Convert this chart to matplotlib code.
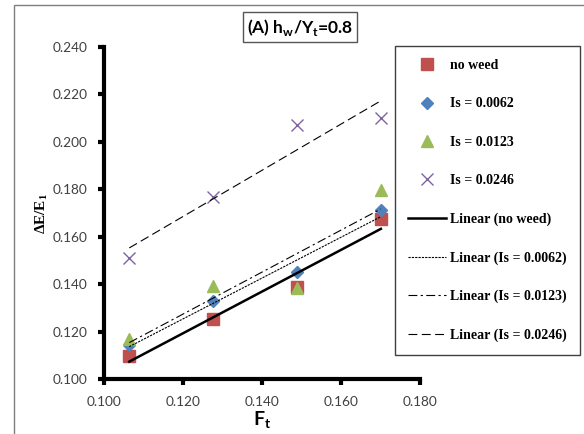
import matplotlib
matplotlib.use("Agg")
import matplotlib.pyplot as plt
import numpy as np
from matplotlib.patches import Rectangle

# data
ft = [0.1064, 0.1277, 0.1488, 0.1701]
no_weed = [0.1098, 0.1253, 0.1387, 0.1675]
is_0062 = [0.1145, 0.1331, 0.1453, 0.1713]
is_0123 = [0.1168, 0.1393, 0.1383, 0.1797]
is_0246 = [0.1512, 0.1769, 0.2070, 0.2101]

names = ["no weed", "Is = 0.0062", "Is = 0.0123", "Is = 0.0246"]
series = [no_weed, is_0062, is_0123, is_0246]
markers = ["s", "D", "^", "x"]
msizes = [8, 6, 8, 9]
colors = ["#C0504D", "#4F81BD", "#9BBB59", "#8064A2"]
trend_styles = ["-", (0, (2, 1)), (0, (8, 3, 2, 3)), (0, (8, 4))]
trend_widths = [1.8, 0.8, 0.8, 0.8]

xticks = [0.100, 0.120, 0.140, 0.160, 0.180]
yticks = [0.100, 0.120, 0.140, 0.160, 0.180, 0.200, 0.220, 0.240]

W, H = 584, 434
fig = plt.figure(figsize=(W / 100, H / 100), dpi=100)
ax = fig.add_axes([104 / W, 1 - 379 / H, (420 - 104) / W, (379 - 47) / H])

# outer chart border
fig.patches.append(Rectangle((14 / W, -0.1), 1.2, 1 - 5 / H + 0.1,
                             transform=fig.transFigure, fill=False,
                             edgecolor="#7f7f7f", linewidth=1))

pts = []
for ys, m, ms, c, n in zip(series, markers, msizes, colors, names):
    if m == "x":
        h, = ax.plot(ft, ys, ls="none", marker=m, ms=ms, mew=1.0, color=c, label=n)
    else:
        h, = ax.plot(ft, ys, ls="none", marker=m, ms=ms, mfc=c, mec=c, label=n)
    pts.append(h)

lines = []
x = np.array(ft)
for ys, ls, lw, n in zip(series, trend_styles, trend_widths, names):
    k, b = np.polyfit(x, ys, 1)
    h, = ax.plot(x, k * x + b, color="black", ls=ls, lw=lw, label="Linear (%s)" % n)
    lines.append(h)

ax.set_xlim(0.100, 0.180)
ax.set_ylim(0.100, 0.240)
ax.set_xticks(xticks)
ax.set_yticks(yticks)
ax.set_xticklabels(["%.3f" % v for v in xticks])
ax.set_yticklabels(["%.3f" % v for v in yticks])
for s in ["top", "right"]:
    ax.spines[s].set_visible(False)
for s in ["left", "bottom"]:
    ax.spines[s].set_linewidth(3)
ax.tick_params(direction="out", length=4, width=3, color="black",
               labelsize=9.8, labelcolor="#404040", pad=8)
for lab in ax.get_xticklabels() + ax.get_yticklabels():
    lab.set_family("Lato")

fig.text(42 / W, 1 - 213 / H, "ΔE/E$_\\mathregular{1}$", rotation=90,
         ha="center", va="center", fontsize=11, fontweight="bold",
         family="Liberation Serif")
fig.text(262 / W, 1 - 420 / H, r"F$_\mathregular{t}$", ha="center", va="center",
         fontsize=14, fontweight="bold", family="Lato")
fig.text(300 / W, 1 - 27 / H, r"(A) h$_\mathregular{w}$/Y$_\mathregular{t}$=0.8",
         ha="center", va="center", fontsize=12.5, fontweight="bold", family="Lato",
         bbox=dict(boxstyle="square,pad=0.25", fc="white", ec="#555555", lw=1))

leg = fig.legend(pts + lines, [h.get_label() for h in pts + lines],
                 loc="upper left", bbox_to_anchor=(395 / W, 1 - 46 / H),
                 prop={"family": "Liberation Serif", "weight": "bold", "size": 10},
                 labelspacing=1.82, handlelength=2.7, handletextpad=0.3,
                 borderpad=0.95, borderaxespad=0, fancybox=False,
                 framealpha=1, edgecolor="#404040")
leg.get_frame().set_linewidth(1)

fig.savefig("out.png", dpi=100)
